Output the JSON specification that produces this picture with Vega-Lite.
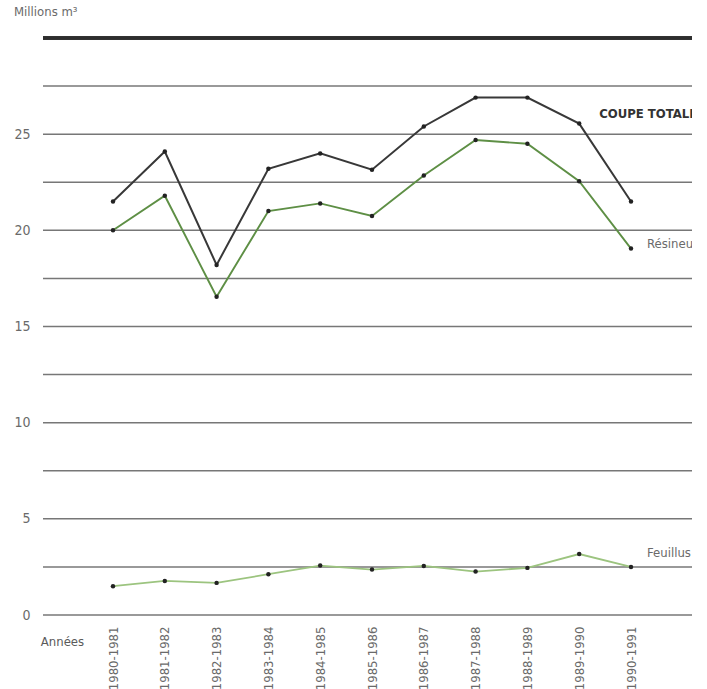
{
  "$schema": "https://vega.github.io/schema/vega-lite/v6.json",
  "autosize": {"type": "none"},
  "width": 649,
  "height": 577,
  "padding": {"left": 43, "top": 38, "right": 15, "bottom": 74},
  "background": "white",
  "title": {
    "text": "Millions m³",
    "anchor": "start",
    "frame": "group",
    "dx": -29,
    "offset": 18,
    "fontSize": 13,
    "fontWeight": "normal",
    "color": "#6a6a6a",
    "font": "Liberation Sans Narrow, DejaVu Sans Condensed, Roboto Condensed, sans-serif"
  },
  "datasets": {
    "series": [
      {"periode": "1980-1981", "serie": "Coupe totale", "valeur": 21.5},
      {"periode": "1981-1982", "serie": "Coupe totale", "valeur": 24.1},
      {"periode": "1982-1983", "serie": "Coupe totale", "valeur": 18.2},
      {"periode": "1983-1984", "serie": "Coupe totale", "valeur": 23.2},
      {"periode": "1984-1985", "serie": "Coupe totale", "valeur": 24.0},
      {"periode": "1985-1986", "serie": "Coupe totale", "valeur": 23.15},
      {"periode": "1986-1987", "serie": "Coupe totale", "valeur": 25.4},
      {"periode": "1987-1988", "serie": "Coupe totale", "valeur": 26.9},
      {"periode": "1988-1989", "serie": "Coupe totale", "valeur": 26.9},
      {"periode": "1989-1990", "serie": "Coupe totale", "valeur": 25.55},
      {"periode": "1990-1991", "serie": "Coupe totale", "valeur": 21.5},
      {"periode": "1980-1981", "serie": "Résineux", "valeur": 20.0},
      {"periode": "1981-1982", "serie": "Résineux", "valeur": 21.8},
      {"periode": "1982-1983", "serie": "Résineux", "valeur": 16.55},
      {"periode": "1983-1984", "serie": "Résineux", "valeur": 21.0},
      {"periode": "1984-1985", "serie": "Résineux", "valeur": 21.4},
      {"periode": "1985-1986", "serie": "Résineux", "valeur": 20.75},
      {"periode": "1986-1987", "serie": "Résineux", "valeur": 22.85},
      {"periode": "1987-1988", "serie": "Résineux", "valeur": 24.7},
      {"periode": "1988-1989", "serie": "Résineux", "valeur": 24.5},
      {"periode": "1989-1990", "serie": "Résineux", "valeur": 22.55},
      {"periode": "1990-1991", "serie": "Résineux", "valeur": 19.05},
      {"periode": "1980-1981", "serie": "Feuillus", "valeur": 1.5},
      {"periode": "1981-1982", "serie": "Feuillus", "valeur": 1.77},
      {"periode": "1982-1983", "serie": "Feuillus", "valeur": 1.67},
      {"periode": "1983-1984", "serie": "Feuillus", "valeur": 2.12},
      {"periode": "1984-1985", "serie": "Feuillus", "valeur": 2.57},
      {"periode": "1985-1986", "serie": "Feuillus", "valeur": 2.36},
      {"periode": "1986-1987", "serie": "Feuillus", "valeur": 2.55},
      {"periode": "1987-1988", "serie": "Feuillus", "valeur": 2.26},
      {"periode": "1988-1989", "serie": "Feuillus", "valeur": 2.45},
      {"periode": "1989-1990", "serie": "Feuillus", "valeur": 3.17},
      {"periode": "1990-1991", "serie": "Feuillus", "valeur": 2.5}
    ],
    "grille": [
      {"valeur": 0}, {"valeur": 2.5}, {"valeur": 5}, {"valeur": 7.5}, {"valeur": 10},
      {"valeur": 12.5}, {"valeur": 15}, {"valeur": 17.5}, {"valeur": 20}, {"valeur": 22.5},
      {"valeur": 25}, {"valeur": 27.5}
    ],
    "titre": [
      {"periode": "1989-1990", "valeur": 26.05, "texte": "COUPE TOTALE"}
    ],
    "etiquettes": [
      {"periode": "1990-1991", "valeur": 19.3, "texte": "Résineux"},
      {"periode": "1990-1991", "valeur": 3.23, "texte": "Feuillus"}
    ]
  },
  "config": {
    "view": {"stroke": null},
    "font": "Liberation Sans Narrow, DejaVu Sans Condensed, Roboto Condensed, sans-serif"
  },
  "encoding": {
    "y": {
      "field": "valeur",
      "type": "quantitative",
      "scale": {"domain": [0, 30], "nice": false, "zero": true},
      "axis": {
        "title": null,
        "values": [0, 5, 10, 15, 20, 25],
        "labelFontSize": 14,
        "labelColor": "#6a6a6a",
        "labelPadding": 13,
        "ticks": false,
        "domain": false,
        "grid": false
      }
    }
  },
  "layer": [
    {
      "data": {"name": "grille"},
      "mark": {"type": "rule", "color": "#777777", "strokeWidth": 1.5},
      "encoding": {}
    },
    {
      "data": {"name": "grille"},
      "mark": {"type": "rule", "color": "#2e2e2e", "strokeWidth": 2.5},
      "encoding": {"y": {"datum": 30, "type": "quantitative"}}
    },
    {
      "data": {"name": "series"},
      "mark": {"type": "line"},
      "encoding": {
        "x": {
          "field": "periode",
          "type": "ordinal",
          "scale": {"type": "point", "range": [70, 588], "padding": 0},
          "axis": {
            "title": "Années",
            "titleAngle": 0,
            "titleX": 19,
            "titleY": 26,
            "titleAlign": "center",
            "titleBaseline": "middle",
            "titleFontWeight": "normal",
            "titleFontSize": 13,
            "titleColor": "#5a5a5a",
            "labelAngle": -90,
            "labelFontSize": 13,
            "labelColor": "#6a6a6a",
            "labelPadding": 11,
            "labelOverlap": false,
            "ticks": false,
            "domain": false,
            "grid": false
          }
        },
        "color": {
          "field": "serie",
          "type": "nominal",
          "scale": {"domain": ["Coupe totale", "Résineux", "Feuillus"], "range": ["#383838", "#5e8f45", "#9cc47f"]},
          "legend": null
        },
        "strokeWidth": {
          "field": "serie",
          "type": "nominal",
          "scale": {"domain": ["Coupe totale", "Résineux", "Feuillus"], "range": [2, 1.8, 1.8]},
          "legend": null
        }
      }
    },
    {
      "data": {"name": "series"},
      "mark": {"type": "point", "filled": true, "size": 20, "color": "#222222", "opacity": 1},
      "encoding": {
        "x": {"field": "periode", "type": "ordinal"},
        "detail": {"field": "serie", "type": "nominal"}
      }
    },
    {
      "data": {"name": "titre"},
      "mark": {"type": "text", "align": "left", "baseline": "middle", "dx": 20, "fontSize": 13, "fontWeight": "bold", "color": "#333333", "clip": true},
      "encoding": {
        "x": {"field": "periode", "type": "ordinal"},
        "text": {"field": "texte", "type": "nominal"}
      }
    },
    {
      "data": {"name": "etiquettes"},
      "mark": {"type": "text", "align": "left", "baseline": "middle", "dx": 16, "fontSize": 13, "color": "#6a6a6a", "clip": true},
      "encoding": {
        "x": {"field": "periode", "type": "ordinal"},
        "text": {"field": "texte", "type": "nominal"}
      }
    }
  ]
}
